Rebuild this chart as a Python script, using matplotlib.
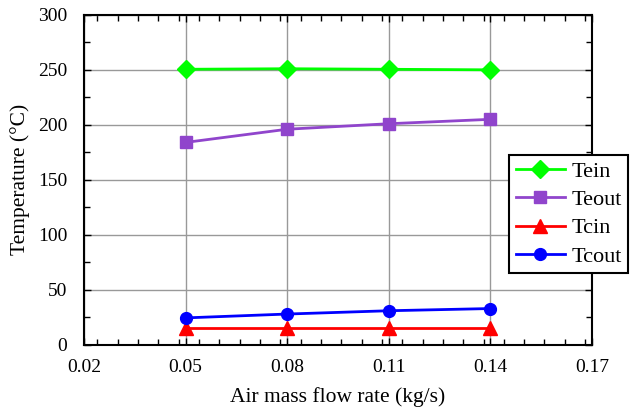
import numpy as np
import matplotlib
matplotlib.use("Agg")
import matplotlib.pyplot as plt
from matplotlib.ticker import MultipleLocator

# Data
flow_rate = [0.05, 0.08, 0.11, 0.14]   # air mass flow rate (kg/s)
t_ein = [250.5, 251, 250.5, 250]
t_eout = [184, 196, 201, 205]
t_cin = [15, 15, 15, 15]
t_cout = [24.5, 28, 31, 33]

plt.rcParams['font.family'] = ['Liberation Serif', 'DejaVu Serif']
plt.rcParams['font.size'] = 14

fig = plt.figure(figsize=(6.31, 4.12), dpi=100)
ax = fig.add_axes([0.133, 0.163, 0.805, 0.801])

ax.plot(flow_rate, t_ein, color='#00ff00', marker='D', markersize=9, lw=2, label='Tein')
ax.plot(flow_rate, t_eout, color='#9045cc', marker='s', markersize=8.5, lw=2, label='Teout')
ax.plot(flow_rate, t_cin, color='#ff0000', marker='^', markersize=10, lw=2, label='Tcin')
ax.plot(flow_rate, t_cout, color='#0000ff', marker='o', markersize=8.5, lw=2, label='Tcout')

ax.set_xlim(0.02, 0.17)
ax.set_ylim(0, 300)
ax.xaxis.set_minor_locator(MultipleLocator(0.006))
ax.yaxis.set_major_locator(MultipleLocator(50))
ax.yaxis.set_minor_locator(MultipleLocator(25))
ax.set_xticks([0.02, 0.05, 0.08, 0.11, 0.14, 0.17])
ax.set_xticklabels(['0.02', '0.05', '0.08', '0.11', '0.14', '0.17'])

ax.tick_params(which='both', direction='in', top=True, right=True)
ax.tick_params(which='major', length=5, width=1)
ax.tick_params(axis='x', which='major', pad=10)
ax.tick_params(axis='y', which='major', pad=12)
ax.tick_params(which='minor', length=4, width=1)
ax.grid(True, which='major', color='#999999', lw=1)
for s in ax.spines.values():
    s.set_linewidth(1.5)

ax.set_xlabel('Air mass flow rate (kg/s)', fontsize=15.5, labelpad=8)
ax.set_ylabel('Temperature (°C)', fontsize=15.5, labelpad=6)

leg = fig.legend(loc='upper left', bbox_to_anchor=(0.807, 0.625), frameon=True,
                 fancybox=False, edgecolor='black', framealpha=1, fontsize=16,
                 handlelength=2.2, handletextpad=0.3, borderpad=0.3,
                 labelspacing=0.35, borderaxespad=0)
leg.get_frame().set_linewidth(1.5)

fig.savefig('out.png', dpi=100)
